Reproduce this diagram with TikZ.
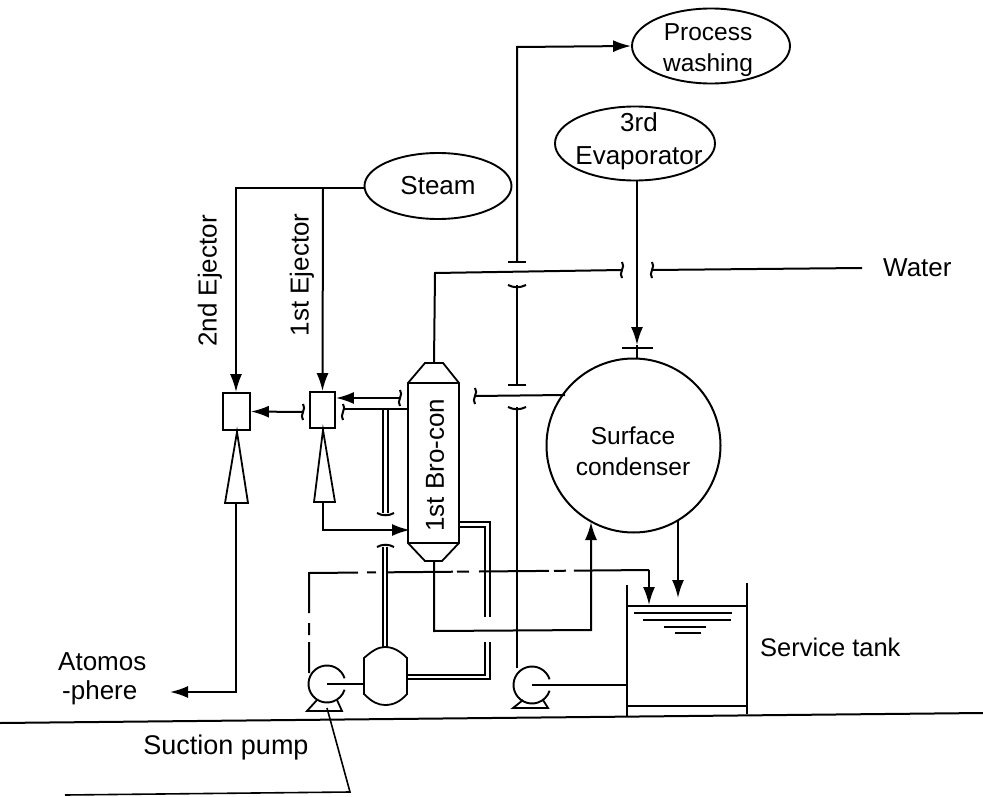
\documentclass[tikz,border=0pt]{standalone}
\usepackage{fontspec}
\setmainfont{Liberation Sans}
\usetikzlibrary{arrows.meta,shapes.geometric}
\tikzset{
  pipe/.style={line width=2pt,black},
  flow/.style={pipe,-{Latex[length=18pt,width=12pt]}},
  twin/.style={line width=1.4pt},
  unit/.style={draw,line width=1.8pt,fill=white},
  lbl/.style={inner sep=0pt,font=\fontsize{26}{33}\selectfont,align=center},
  lblsm/.style={inner sep=0pt,font=\fontsize{24.5}{31}\selectfont,align=center},
  feedell/.style={draw,ellipse,line width=1.9pt,inner sep=0pt},
}
\newcommand{\jumpv}[2]{\draw[pipe] (#1-9,#2) .. controls (#1-3,#2+3) and (#1+3,#2+3) .. (#1+9,#2);}
\newcommand{\jumph}[2]{\draw[pipe] (#1,#2-8) .. controls (#1+4,#2-3) and (#1-4,#2+3) .. (#1,#2+8);}
\begin{document}
\begin{tikzpicture}[x=1pt,y=-1pt]
\useasboundingbox (0,0) rectangle (983,797);
% ground + leader
\coordinate (g1) at (0,723); \coordinate (g2) at (983,713);
\draw[pipe] (g1) -- (g2);
\coordinate (l1) at (327,708); \coordinate (l2) at (350,792); \coordinate (l3) at (65,795);
\draw[line width=1.6pt] (l1) -- (l2) -- (l3);
% feeds
\node[feedell,minimum width=147pt,minimum height=66pt,lbl] (steam) at (438,186) {Steam};
\node[feedell,minimum width=160pt,minimum height=74pt] (evap) at (635,143.5) {};
\node[lbl] (evaptxt) at (639,141) {3rd\\Evaporator};
\node[feedell,minimum width=158pt,minimum height=75pt] (wash) at (711,46) {};
\node[lblsm] (washtxt) at (708,50) {Process\\washing};
% ejectors
\node[unit,minimum width=27pt,minimum height=37pt,inner sep=0pt] (ej2) at (236.5,411.5) {};
\node[unit,minimum width=25pt,minimum height=36pt,inner sep=0pt] (ej1) at (322.5,410) {};
\draw[unit] (237,432) -- (225,503) -- (248,503) -- cycle;
\draw[unit] (323,430) -- (314,502) -- (335,502) -- cycle;
\coordinate (n2b) at (236,503); \coordinate (n1b) at (323,502);
% bro-con
\draw[unit] (408,383) -- (425,363) -- (443,363) -- (459,383) -- (459,543) -- (442,561) -- (425,561) -- (408,543) -- cycle;
\draw[unit] (408,383) -- (459,383); \draw[unit] (408,543) -- (459,543);
\node[lbl,rotate=90] (bro) at (435,465) {1st Bro-con};
\coordinate (brot) at (434,363); \coordinate (brob) at (434,561);
% condenser
\node[draw,circle,line width=2pt,minimum size=174pt,inner sep=0pt] (cond) at (633.5,445.5) {};
\node[lblsm] (condtxt) at (633,451) {Surface\\condenser};
% tank
\draw[line width=2pt] (627,585) -- (627,716) (747,583) -- (747,714);
\draw[line width=1.9pt] (627,606) -- (747,606) (627,706) -- (747,706);
\draw[line width=1.7pt] (634,613) -- (732,613) (643,620) -- (731,620) (664,627) -- (706,627) (675,633) -- (701,633);
\coordinate (tankl) at (627,685);
% pumps
\node[inner sep=0pt,minimum size=0pt] (p1) at (327,684) {};
\node[inner sep=0pt,minimum size=0pt] (p2) at (532,685) {};
\draw[line width=1.9pt] (p1) ++(18:18.5pt) arc (18:342:18.5pt);
\draw[line width=1.9pt] (p2) ++(18:18.5pt) arc (18:342:18.5pt);
\draw[line width=1.8pt] (317,700) -- (307,711) -- (342,711) -- (337,700);
\draw[line width=1.8pt] (523,700) -- (513,708) -- (548,708) -- (543,700);
% vessel
\draw[unit] (364,658) .. controls (372,651) and (378,647) .. (385,647) .. controls (393,647) and (400,651) .. (407,658) -- (407,694) .. controls (400,702) and (393,705) .. (385,705) .. controls (378,705) and (372,702) .. (364,694) -- cycle;
\coordinate (vesl) at (364,684);
\draw[pipe] (vesl) -- (p1);
\draw[pipe] (tankl) -- (p2);
% steam lines
\draw[flow] (steam.west) ++(0,2) -- (236,188) -- (ej2.north -| 236,0);
\draw[flow] (323,188) -- (ej1.north);
% ejector interconnect
\draw[flow] (303,412) -- (ej2.east);
\jumph{303}{412}
\draw[flow] (400,398) -- (ej1.east |- 0,398);
\jumph{400}{398}
\draw[pipe] (408,409) -- (343,409);
\jumph{343}{412}
% 1st ejector to bro-con, 2nd ejector to atmosphere
\draw[flow] (n1b) -- (323,530) -- (410,530);
\draw[flow] (n2b) -- (236,692) -- (170,692);
% twin lines
\draw[twin] (383,409) -- (383,513) (388,409) -- (388,513);
\draw[pipe] (377,513) .. controls (382,516) and (389,516) .. (394,513);
\draw[pipe] (377,547) .. controls (382,544) and (389,544) .. (394,547);
\draw[twin] (383,547) -- (383,647) (387,547) -- (387,647);
\draw[twin] (459,522) -- (490,522) -- (490,617) (459,527) -- (485,527) -- (485,617);
\draw[twin] (407,675) -- (485,675) -- (485,642) (407,679) -- (490,679) -- (490,642);
% top lines
\draw[pipe] (brot) -- (435,273) -- (622,270);
\jumph{622}{270}
\jumph{652}{270}
\coordinate (water) at (862,268);
\draw[pipe] (652,270) -- (water);
\node[lbl,anchor=west] (wlab) at (883,268) {Water};
% process washing line
\draw[flow] (517,262) -- (517,47) -- (wash.west);
\draw[pipe] (508,262) -- (526,262);
\jumpv{517}{285}
\draw[pipe] (517,285) -- (517,385);
\draw[pipe] (508,385) -- (526,385);
\jumpv{517}{407}
\draw[pipe] (517,407) -- (517,668);
% evaporator to condenser
\draw[flow] (637,180) -- (637,345);
\draw[pipe] (622,348) -- (653,348);
\draw[pipe] (637,345) -- (637,358);
% condenser to brocon
\draw[pipe] (565,395) -- (475,396);
\jumph{475}{396}
% brocon bottom to condenser
\draw[flow] (brob) -- (434,631) -- (591,630) -- (591,522);
% condenser to tank
\draw[flow] (678,520) -- (678,598);
% dashed line
\draw[pipe,dash pattern=on 31pt off 7pt on 12pt off 10pt on 89pt off 9pt on 9pt off 10pt on 67pt off 4pt on 12pt off 10pt on 70pt off 5pt on 12pt off 8pt on 90pt off 1pt] (309,673) -- (309,573) -- (649,570);
\draw[flow] (649,570) -- (649,605);
% labels
\node[lbl,rotate=90] (l2e) at (210,281) {2nd Ejector};
\node[lbl,rotate=90] (l1e) at (302,275) {1st Ejector};
\node[lbl,font=\fontsize{25.5}{31}\selectfont,anchor=west] (st) at (760,647) {Service tank};
\node[lbl,anchor=west] (atm) at (58,662) {Atomos};
\node[lbl,anchor=west] (atm2) at (62,693) {-phere};
\node[lbl,font=\fontsize{27}{33}\selectfont] (sp) at (226,748) {Suction pump};
\end{tikzpicture}
\end{document}
